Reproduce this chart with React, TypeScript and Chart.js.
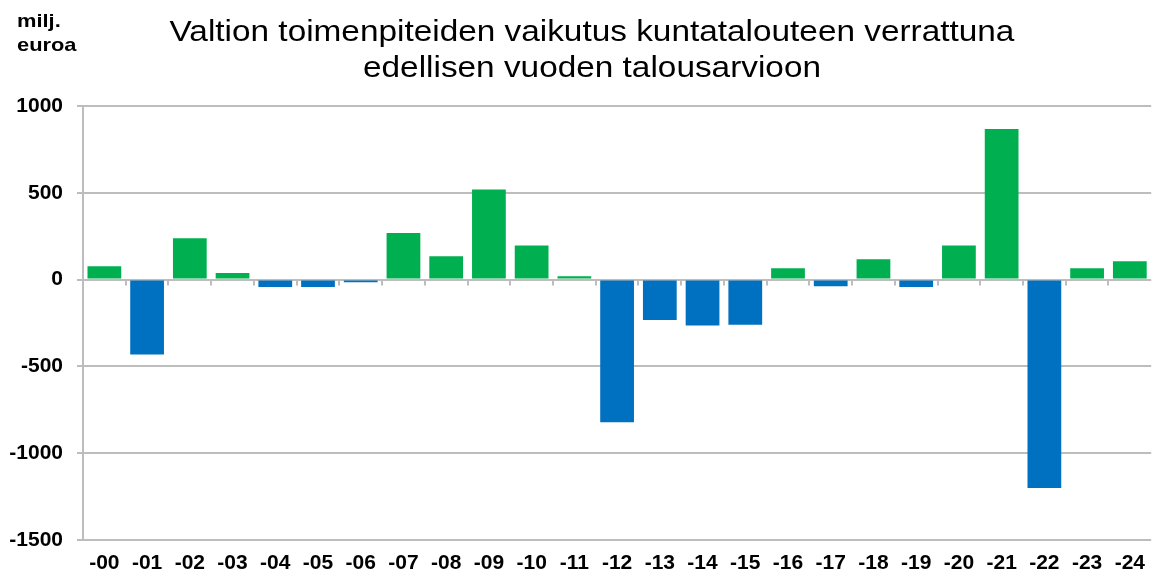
import React, { useEffect, useRef } from "react";
import { Chart, registerables } from "chart.js";

Chart.register(...registerables);

const categories = ["-00", "-01", "-02", "-03", "-04", "-05", "-06", "-07", "-08", "-09", "-10", "-11", "-12", "-13", "-14", "-15", "-16", "-17", "-18", "-19", "-20", "-21", "-22", "-23", "-24"];
const values = [77, -432, 238, 38, -42, -42, -15, 269, 134, 519, 196, 19, -821, -233, -264, -260, 65, -38, 117, -42, 196, 868, -1200, 65, 106];
const titleLines = ["Valtion toimenpiteiden vaikutus kuntatalouteen verrattuna", "edellisen vuoden talousarvioon"];
const unitLines = ["milj.", "euroa"];
const yTicks = { min: -1500, max: 1000, step: 500 };

const GREEN = "#00B050";
const BLUE = "#0070C0";
const GRID = "#BDBDBD";
const FONT = "'Liberation Sans', Arial, sans-serif";

const textPlugin = {
  id: "texts",
  afterDraw(chart: any) {
    const ctx = chart.ctx;
    ctx.save();
    ctx.fillStyle = "#000";
    ctx.font = `29px ${FONT}`;
    ctx.textAlign = "center";
    ctx.textBaseline = "middle";
    const drawStretched = (t: string, x: number, y: number) => {
      ctx.save();
      ctx.translate(x, y);
      ctx.scale(1.15, 1);
      ctx.fillText(t, 0, 0);
      ctx.restore();
    };
    drawStretched(titleLines[0], 592, 33);
    drawStretched(titleLines[1], 592, 69);
    ctx.font = `bold 19px ${FONT}`;
    ctx.textAlign = "left";
    ctx.save();
    ctx.translate(17, 22);
    ctx.scale(1.15, 1);
    ctx.fillText(unitLines[0], 0, 0);
    ctx.fillText(unitLines[1], 0, 24);
    ctx.restore();
    // small tick marks on the zero line at category boundaries
    const xs = chart.scales.x;
    const ys = chart.scales.y;
    const y0 = ys.getPixelForValue(0);
    const half = (xs.getPixelForValue(1) - xs.getPixelForValue(0)) / 2;
    ctx.strokeStyle = GRID;
    ctx.lineWidth = 2;
    for (let i = 1; i < categories.length; i++) {
      const x = Math.round(xs.getPixelForValue(i) - half);
      ctx.beginPath();
      ctx.moveTo(x, y0);
      ctx.lineTo(x, y0 + 6);
      ctx.stroke();
    }
    ctx.restore();
  },
};

export default function App() {
  const ref = useRef<HTMLCanvasElement>(null);
  useEffect(() => {
    if (!ref.current) return;
    const chart = new Chart(ref.current, {
      type: "bar",
      data: {
        labels: categories,
        datasets: [
          {
            data: values,
            backgroundColor: values.map((v) => (v >= 0 ? GREEN : BLUE)),
            barPercentage: 0.79,
            categoryPercentage: 1,
          },
        ],
      },
      options: {
        animation: false,
        responsive: false,
        layout: { padding: { top: 106, left: 0, right: 0, bottom: 0 } },
        plugins: { legend: { display: false }, tooltip: { enabled: false }, title: { display: false } },
        scales: {
          x: {
            offset: true,
            grid: { display: false, drawTicks: false },
            border: { display: false },
            ticks: { color: "#000", font: { family: FONT, size: 21, weight: "bold" }, padding: 11, maxRotation: 0, autoSkip: false },
            afterFit: (s: any) => {
              s.height = 36;
            },
          },
          y: {
            min: yTicks.min,
            max: yTicks.max,
            ticks: {
              stepSize: yTicks.step,
              color: "#000",
              font: { family: FONT, size: 21, weight: "bold" },
              padding: 14,
              callback: (v: any) => String(v),
            },
            grid: { color: GRID, lineWidth: 2, tickLength: 6, drawTicks: true },
            border: { display: true, color: GRID, width: 2 },
            afterFit: (s: any) => {
              s.width = 83;
            },
          },
        },
      },
      plugins: [textPlugin],
    });
    return () => chart.destroy();
  }, []);
  return (
    <div style={{ position: "absolute", left: 0, top: 0, width: 1156, height: 576, background: "#fff" }}>
      <canvas ref={ref} width={1156} height={576} />
    </div>
  );
}
